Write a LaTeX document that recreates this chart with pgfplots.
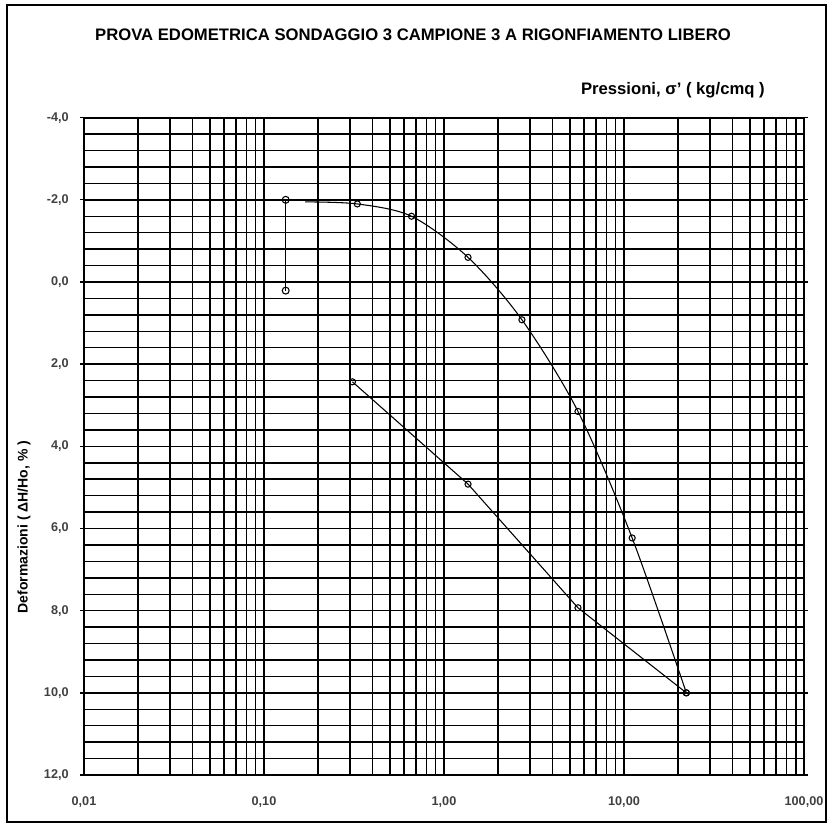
\documentclass[border=0pt]{standalone}
\usepackage{pgfplots}
\pgfplotsset{compat=1.18}
\usepackage{fontspec}
\setmainfont{Liberation Sans}
\begin{document}
\begin{tikzpicture}[x=0.75pt,y=0.75pt]
\useasboundingbox (0,0) rectangle (832,827);
\draw[line width=1.2pt] (7,5) rectangle (826,822);
\begin{axis}[
  at={(63pt,39pt)}, anchor=south west,
  scale only axis, width=540pt, height=493pt,
  xmode=log, xmin=0.01, xmax=100,
  ymin=-4, ymax=12, y dir=reverse,
  xtick={0.01,0.1,1,10,100},
  xticklabels={{0,01},{0,10},{1,00},{10,00},{100,00}},
  ytick={-4,-2,0,2,4,6,8,10,12},
  yticklabels={{-4,0},{-2,0},{0,0},{2,0},{4,0},{6,0},{8,0},{10,0},{12,0}},
  minor ytick={-3.6,-3.2,-2.8,-2.4,-1.6,-1.2,-0.8,-0.4,0.4,0.8,1.2,1.6,2.4,2.8,3.2,3.6,4.4,4.8,5.2,5.6,6.4,6.8,7.2,7.6,8.4,8.8,9.2,9.6,10.4,10.8,11.2,11.6},
  grid=both,
  grid style={black, line width=1.1pt},
  minor grid style={black, line width=1.1pt},
  axis line style={black, line width=1.3pt},
  tick align=outside,
  major tick length=3pt, minor tick length=0pt,
  xtick style={draw=none},
  ytick style={black, line width=1pt},
  tick label style={font=\fontsize{9.5}{11}\selectfont\bfseries, text=black!75},
  xticklabel style={yshift=-10pt},
  yticklabel style={xshift=-5pt},
  /pgf/number format/assume math mode=true,
  clip=false,
]
% vertical swelling segment
\addplot[black, line width=0.7pt, mark=o, mark size=2.6pt, mark options={line width=0.8pt}]
  coordinates {(0.132,-2.0) (0.132,0.21)};
% loading curve (smoothed)
\addplot[black, line width=0.8pt, smooth, tension=0.5]
  coordinates {(0.169,-1.95) (0.33,-1.9) (0.66,-1.6) (1.36,-0.6) (2.71,0.92) (5.55,3.15) (11.1,6.23) (22.2,10.0)};
\addplot[black, only marks, mark=o, mark size=2.3pt, mark options={line width=0.8pt}]
  coordinates {(0.33,-1.9) (0.66,-1.6) (1.36,-0.6) (2.71,0.92) (5.55,3.15) (11.1,6.23) (22.2,10.0)};
% unloading
\addplot[black, line width=0.8pt, mark=o, mark size=2.3pt, mark options={line width=0.8pt}]
  coordinates {(22.2,10.0) (5.55,7.93) (1.36,4.92) (0.31,2.43)};
\end{axis}
\node[font=\fontsize{12.5}{14}\selectfont\bfseries, inner sep=0pt] at (413,792) {PROVA EDOMETRICA SONDAGGIO 3 CAMPIONE 3 A RIGONFIAMENTO LIBERO};
\node[font=\fontsize{12.5}{14}\selectfont\bfseries, inner sep=0pt, anchor=east] at (765,737) {Pressioni, σ' ( kg/cmq )};
\node[font=\fontsize{10.5}{12}\selectfont\bfseries, inner sep=0pt, rotate=90] at (24,300) {Deformazioni ( ΔH/Ho, \% )};
\end{tikzpicture}
\end{document}
